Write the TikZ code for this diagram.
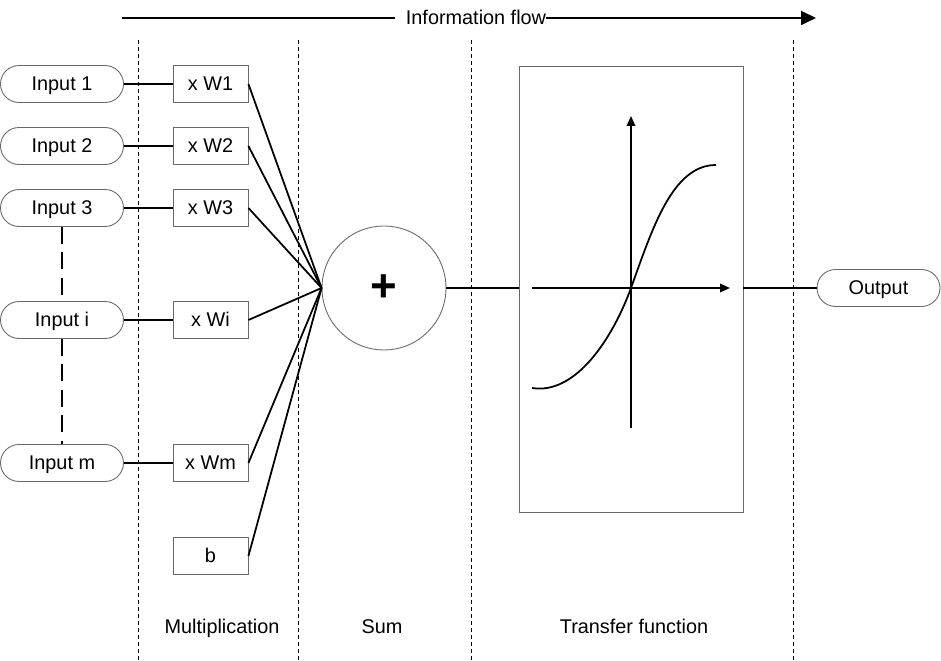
\documentclass[tikz,border=0pt]{standalone}
\usepackage{fontspec}
\setmainfont{Liberation Sans}
\usetikzlibrary{positioning}
\usetikzlibrary{arrows.meta}
\definecolor{outline}{RGB}{105,105,105}

\begin{document}
\begin{tikzpicture}[x=0.02cm, y=-0.02cm,
    every node/.style={font=\fontsize{11.3}{13}\selectfont, text height=8.1pt, text depth=1pt},
    pill/.style={draw=outline, line width=0.5pt, rounded corners=0.37cm, minimum width=2.46cm, minimum height=0.74cm, inner sep=0pt},
    wbox/.style={draw=outline, line width=0.5pt, minimum width=1.5cm, minimum height=0.74cm, inner sep=0pt},
    wire/.style={line width=1pt},
    divider/.style={line width=0.5pt, dash pattern=on 0.08cm off 0.06cm}]
    \useasboundingbox (0,0) rectangle (941,661);

    % information flow
    \node[inner sep=0pt] (flow) at (476,18) {Information flow};
    \coordinate (flowstart) at (122,18);
    \coordinate (flowend) at (816,18);
    \draw[wire] (flowstart) -- ([xshift=-0.22cm]flow.west);
    \draw[wire, -{Triangle[length=0.3cm,width=0.28cm]}] (flow.east) -- (flowend);

    % stage dividers
    \foreach \x in {138,298,471,793} {
        \draw[divider] (\x,40) -- (\x,661);
    }

    % inputs and weights
    \foreach \n/\y in {1/84,2/146,3/208,i/320,m/463} {
        \node[pill] (in\n) at (62,\y) {Input \n};
        \node[wbox] (w\n) at (210.5,\y) {x W\n};
        \draw[wire] (in\n.east) -- (w\n.west);
    }
    \node[wbox] (b) at (210.5,556) {b};
    \draw[wire, dash pattern=on 0.34cm off 0.17cm] (in3.south) -- (ini.north);
    \draw[wire, dash pattern=on 0.34cm off 0.17cm] (ini.south) -- (inm.north);

    % sum
    \node[draw=outline, line width=0.5pt, circle, minimum size=2.48cm, inner sep=0pt,
          text height=, text depth=, font=\fontsize{26}{26}\selectfont\bfseries] (sum) at (384,288) {+};
    \foreach \n in {w1,w2,w3,wi,wm,b} {
        \draw[wire] (\n.east) -- (sum.west);
    }

    % transfer function
    \node[draw=outline, line width=0.5pt, minimum width=4.48cm, minimum height=8.92cm, inner sep=0pt] (tf) at (631,289) {};
    \draw[wire] (sum.east) -- (tf.west |- sum.east);
    \draw[wire, -{Triangle[length=0.2cm,width=0.17cm]}] (532,288) -- (730,288);
    \draw[wire, -{Triangle[length=0.2cm,width=0.17cm]}] (631,428) -- (631,116);
    \draw[wire] (532,388) .. controls (575,395) and (612,340) .. (631,288)
        .. controls (652,230) and (672,165) .. (716,165);

    % output
    \node[pill] (out) at (878.5,288) {Output};
    \draw[wire] (tf.east |- out.west) -- (out.west);

    % stage labels
    \foreach \x/\t in {222/Multiplication,382/Sum,634/Transfer function} {
        \node[anchor=base] at (\x,634) {\t};
    }
\end{tikzpicture}
\end{document}
